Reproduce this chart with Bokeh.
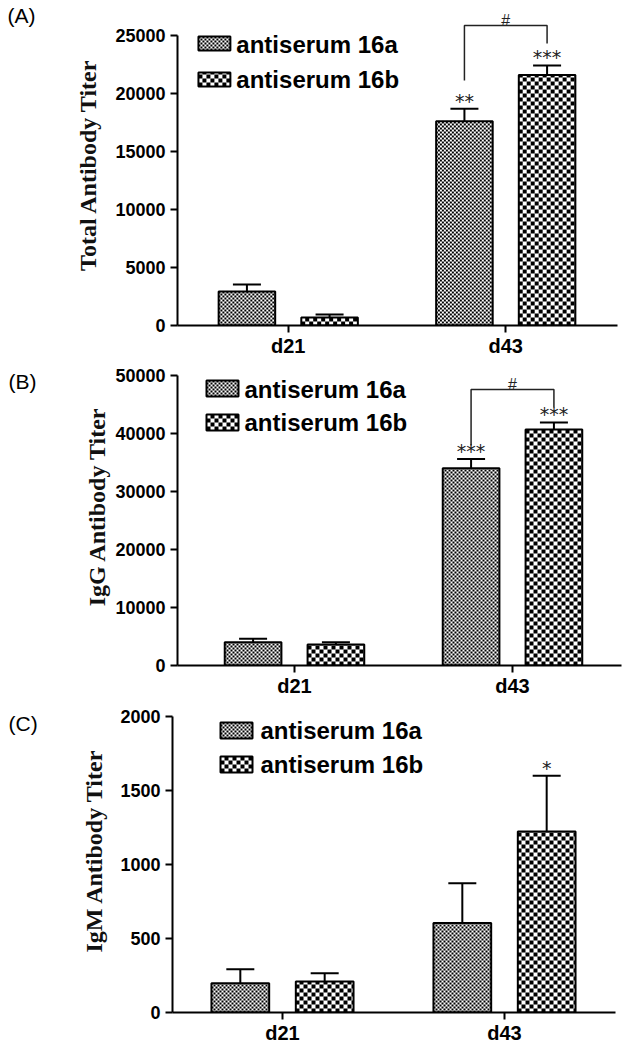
import math
import numpy as np
from bokeh.plotting import figure
from bokeh.models import ColumnDataSource, Range1d, FixedTicker, Whisker, TeeHead
from bokeh.layouts import column, row
from bokeh.embed import file_html
from bokeh.resources import INLINE
from bokeh.core.properties import value

# ---------------- data ----------------
days = ["d21", "d43"]
series = ["antiserum 16a", "antiserum 16b"]

total_16a = [2930, 17600]
total_16a_err = [600, 1080]
total_16b = [690, 21600]
total_16b_err = [260, 820]

igg_16a = [4020, 34000]
igg_16a_err = [580, 1600]
igg_16b = [3620, 40700]
igg_16b_err = [400, 1200]

igm_16a = [198, 604]
igm_16a_err = [95, 270]
igm_16b = [209, 1223]
igm_16b_err = [57, 376]

total_ticks = [0, 5000, 10000, 15000, 20000, 25000]
igg_ticks = [0, 10000, 20000, 30000, 40000, 50000]
igm_ticks = [0, 500, 1000, 1500, 2000]

total_sig_16a = ["", "**"]
total_sig_16b = ["", "***"]
igg_sig_16a = ["", "***"]
igg_sig_16b = ["", "***"]
igm_sig_16a = ["", ""]
igm_sig_16b = ["", "*"]

# "#" bracket between the two d43 bars: (top, left leg end, right leg end), data units
total_bracket = (25860, 21120, 24310)
igg_bracket = (47590, 37930, 44480)

SANS = "Liberation Sans"
SERIF = "Liberation Serif"
LEFT_W = 112
BAR_W = 0.26
OFF = 0.19
CELLS = [2, 4]  # checker cell size (px) for 16a / 16b


def make_panel(tag, ytitle, a, a_err, b, b_err, sig_a, sig_b, ticks, g, bracket):
    span = g["t1"] - g["t0"]
    x_start = -(g["t0"] - g["fl"]) / span
    x_end = 1 + (g["fr"] - g["t1"]) / span
    upp = ticks[-1] / (g["zero"] - g["ytop"])
    y_end = (g["zero"] - g["ft"]) * upp
    h = g["fb"] - g["fig_top"]

    def px2x(px):
        return x_start + (px - g["fl"]) / span

    def px2y(py):
        return (g["zero"] - py) * upp

    def x2px(x):
        return g["fl"] + (x - x_start) * span

    def y2px(y):
        return g["zero"] - y / upp

    # ---- left strip: panel tag and rotated y title ----
    lf = figure(width=LEFT_W, height=h, x_range=Range1d(0, LEFT_W), y_range=Range1d(0, h),
                x_axis_location=None, y_axis_location=None, min_border=0,
                output_backend="svg", toolbar_location=None)
    lf.outline_line_color = None
    lf.grid.visible = False
    lf.text(x=[g["tag"][0]], y=[g["fb"] - g["tag"][1]], text=[tag], text_font=value(SANS),
            text_font_size="21px", text_align="left", text_baseline="middle", text_color="black")
    lf.text(x=[g["yt"][0]], y=[g["fb"] - g["yt"][1]], text=[ytitle], angle=math.pi / 2,
            text_font=value(SERIF), text_font_style="bold", text_font_size="24px",
            text_align="center", text_baseline="middle", text_color="#111111")

    # ---- main plot ----
    p = figure(width=631 - LEFT_W, height=h, x_range=Range1d(x_start, x_end),
               y_range=Range1d(0, y_end), output_backend="svg", toolbar_location=None,
               min_border_left=g["fl"] - LEFT_W, min_border_right=631 - g["fr"],
               min_border_top=g["ft"] - g["fig_top"], min_border_bottom=g["fb"] - g["zero"])
    p.outline_line_color = None
    p.xgrid.visible = False
    p.ygrid.visible = False

    xs = np.arange(len(days), dtype=float)

    def checker(rects, cell):
        L, R, B, T = [], [], [], []
        for (l, r, top, bot) in rects:
            nx = int(math.ceil((r - l) / cell))
            ny = int(math.ceil((bot - top) / cell))
            for i in range(nx):
                for j in range(ny):
                    if (i + j) % 2:
                        continue
                    x0 = l + i * cell
                    x1 = min(x0 + cell, r)
                    y1 = bot - j * cell
                    y0 = max(y1 - cell, top)
                    if x1 <= x0 or y1 <= y0:
                        continue
                    L.append(px2x(x0)); R.append(px2x(x1))
                    B.append(px2y(y1)); T.append(px2y(y0))
        if L:
            p.quad(left=L, right=R, bottom=B, top=T, fill_color="black", line_color=None)

    for k, (vals, errs, sig) in enumerate([(a, a_err, sig_a), (b, b_err, sig_b)]):
        dx = -OFF if k == 0 else OFF
        vals = np.array(vals, dtype=float)
        errs = np.array(errs, dtype=float)
        src = ColumnDataSource(dict(x=xs + dx, top=vals, up=vals + errs, sig=sig))
        p.vbar(x="x", top="top", bottom=0, width=BAR_W, source=src,
               fill_color="white", line_color=None)
        rects = []
        for xc, t in zip(xs + dx, vals):
            l = round(x2px(xc - BAR_W / 2))
            r = round(x2px(xc + BAR_W / 2))
            rects.append((l, r, round(y2px(t)), round(y2px(0))))
        checker(rects, CELLS[k])
        p.vbar(x="x", top="top", bottom=0, width=BAR_W, source=src,
               fill_color=None, line_color="black", line_width=2)
        w = Whisker(base="x", lower="top", upper="up", source=src, dimension="height",
                    line_color="black", line_width=2, lower_head=None,
                    upper_head=TeeHead(size=28, line_width=2, line_color="black"))
        p.add_layout(w)
        p.text(x="x", y="up", text="sig", source=src, text_font=value("DejaVu Sans"),
               text_font_size="19px", text_align="center", text_baseline="alphabetic",
               y_offset=-8, text_color="#222222")

    if bracket is not None:
        top, la, lb = bracket
        xa = xs[1] - OFF
        xb = xs[1] + OFF
        p.line(x=[xa, xa, xb, xb], y=[la, top, top, lb], line_color="#222222", line_width=1.5)
        p.text(x=[(xa + xb) / 2], y=[top], text=["#"], text_font=value(SANS),
               text_font_size="16px", text_align="center", text_baseline="alphabetic",
               y_offset=-5, text_color="#222222")

    # ---- legend (drawn inside the plot area) ----
    gx0, gx1 = g["leg_gx"]
    gh = g["leg_gh"]
    for k, rowc in enumerate(g["leg_rows"]):
        t_px = round(rowc - gh / 2)
        b_px = t_px + gh
        p.quad(left=[px2x(gx0)], right=[px2x(gx1)], top=[px2y(t_px)], bottom=[px2y(b_px)],
               fill_color="white", line_color=None)
        checker([(gx0, gx1, t_px, b_px)], CELLS[k])
        p.quad(left=[px2x(gx0)], right=[px2x(gx1)], top=[px2y(t_px)], bottom=[px2y(b_px)],
               fill_color=None, line_color="black", line_width=2)
        p.text(x=[px2x(g["leg_tx"])], y=[px2y(rowc)], text=[series[k]], text_font=value(SANS),
               text_font_style="bold", text_font_size="24px", text_align="left",
               text_baseline="middle", text_color="black")

    # ---- axes ----
    p.xaxis.ticker = FixedTicker(ticks=list(range(len(days))))
    p.xaxis.major_label_overrides = {i: d for i, d in enumerate(days)}
    p.xaxis.major_label_text_font = SANS
    p.xaxis.major_label_text_font_style = "bold"
    p.xaxis.major_label_text_font_size = "20px"
    p.xaxis.major_label_text_color = "black"
    p.xaxis.major_label_standoff = 2
    p.xaxis.major_tick_in = 0
    p.xaxis.major_tick_out = 7
    p.xaxis.minor_tick_line_color = None
    p.xaxis.axis_line_width = 2
    p.xaxis.major_tick_line_width = 2

    p.yaxis.ticker = FixedTicker(ticks=ticks)
    p.yaxis.bounds = (0, ticks[-1])
    p.yaxis.major_label_text_font = SANS
    p.yaxis.major_label_text_font_style = "bold"
    p.yaxis.major_label_text_font_size = "18px"
    p.yaxis.major_label_text_color = "black"
    p.yaxis.major_label_standoff = 5
    p.yaxis.major_tick_in = 0
    p.yaxis.major_tick_out = 7
    p.yaxis.minor_tick_line_color = None
    p.yaxis.axis_line_width = 2
    p.yaxis.major_tick_line_width = 2

    return row(lf, p, spacing=0)


geoA = dict(fig_top=0, fb=360, fl=176, fr=617, t0=287, t1=505, zero=325, ytop=35, ft=2,
            tag=(7, 15), yt=(87, 181),
            leg_gx=(197, 229), leg_rows=[43.5, 78.5], leg_gh=14, leg_tx=235)
geoB = dict(fig_top=360, fb=702, fl=177, fr=621, t0=294, t1=512, zero=665, ytop=375, ft=363,
            tag=(8, 380), yt=(96, 522),
            leg_gx=(206, 238), leg_rows=[388.5, 421.5], leg_gh=16, leg_tx=244)
geoC = dict(fig_top=702, fb=1050, fl=172, fr=615, t0=282, t1=504, zero=1012, ytop=716, ft=706,
            tag=(8, 721), yt=(93, 866),
            leg_gx=(220, 252), leg_rows=[730, 763.5], leg_gh=16, leg_tx=260)

rA = make_panel("(A)", "Total Antibody Titer", total_16a, total_16a_err, total_16b, total_16b_err,
                total_sig_16a, total_sig_16b, total_ticks, geoA, total_bracket)
rB = make_panel("(B)", "IgG Antibody Titer", igg_16a, igg_16a_err, igg_16b, igg_16b_err,
                igg_sig_16a, igg_sig_16b, igg_ticks, geoB, igg_bracket)
rC = make_panel("(C)", "IgM Antibody Titer", igm_16a, igm_16a_err, igm_16b, igm_16b_err,
                igm_sig_16a, igm_sig_16b, igm_ticks, geoC, None)

layout = column(rA, rB, rC, spacing=0)
open("out.html", "w").write(file_html(layout, INLINE))
